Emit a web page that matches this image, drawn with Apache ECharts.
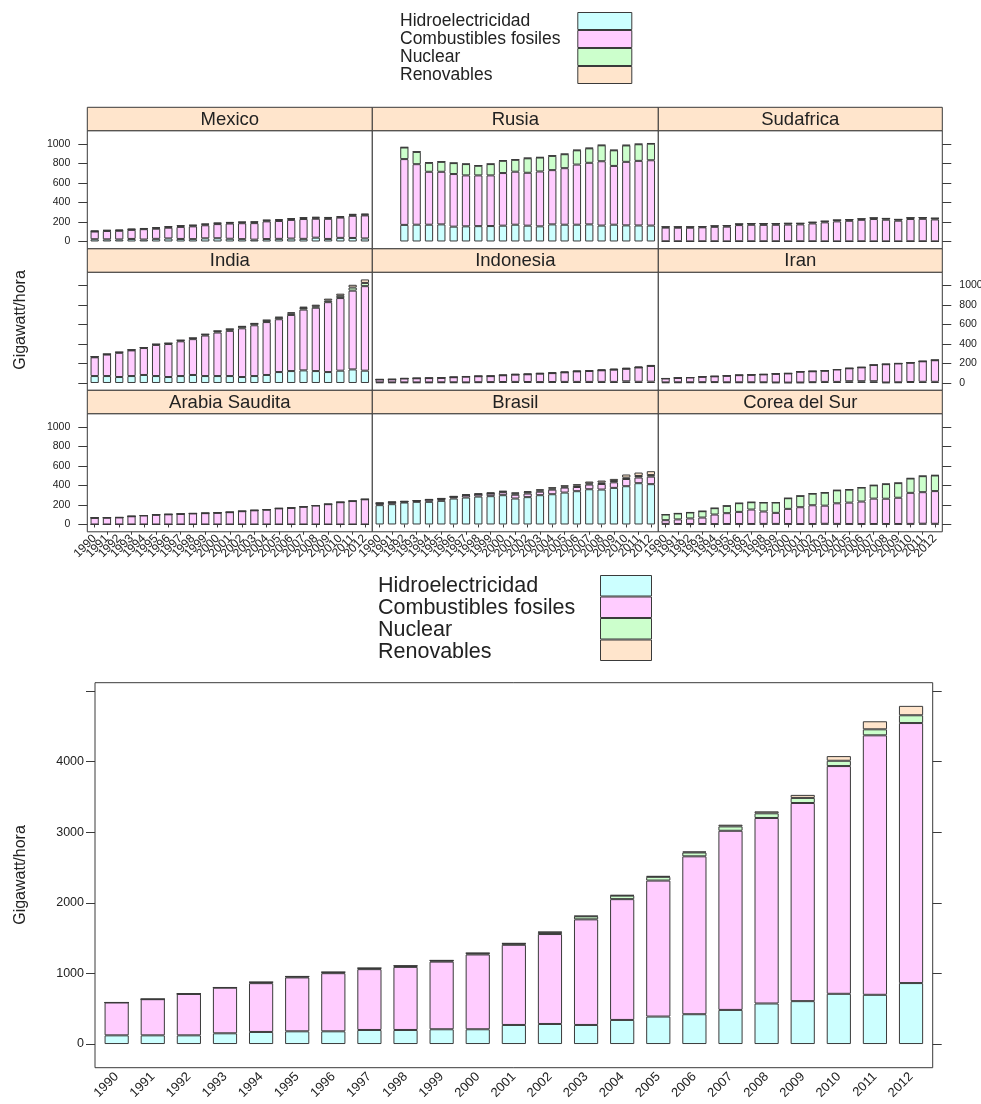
<!DOCTYPE html>
<html><head><meta charset="utf-8">
<script src="https://cdn.jsdelivr.net/npm/echarts@6/dist/echarts.min.js"></script>
<style>html,body{margin:0;padding:0;background:#fff}#c{width:981px;height:1104px}</style>
</head><body><div id="c"></div>
<script>
const years = ['1990','1991','1992','1993','1994','1995','1996','1997','1998','1999','2000','2001','2002','2003','2004','2005','2006','2007','2008','2009','2010','2011','2012'];
const sources = ['Hidroelectricidad','Combustibles fosiles','Nuclear','Renovables'];
const countries = ['Mexico','Rusia','Sudafrica','India','Indonesia','Iran','Arabia Saudita','Brasil','Corea del Sur'];
const panelTicks = [0,200,400,600,800,1000];
const chinaTicks = [0,1000,2000,3000,4000,5000];
const chinaTickLabels = [0,1000,2000,3000,4000];

const mexicoHidro   = [23,22,21,26,20,27,31,26,24,32,33,28,24,19,25,27,30,27,39,26,37,36,31];
const mexicoFosil   = [79,86,89,93,106,104,110,123,131,134,145,156,163,169,181,183,191,203,194,206,208,227,236];
const mexicoNuclear = [3,4,4,5,4,8,8,10,9,10,8,8,10,10,9,10,10,10,10,10,6,10,8];
const mexicoRenov   = [5,5,6,6,6,6,6,6,6,6,6,6,5,7,7,8,7,8,9,8,9,9,10];

const rusiaHidro   = [null,null,170,172,172,175,152,155,157,158,162,172,162,155,175,172,172,175,163,172,165,164,163];
const rusiaFosil   = [null,null,674,620,542,539,539,522,520,519,539,543,542,562,556,579,616,631,659,602,651,662,669];
const rusiaNuclear = [null,null,119,126,92,102,112,116,99,116,126,122,148,143,146,143,146,148,163,160,168,170,170];
const rusiaRenov   = [null,null,3,3,3,3,3,3,3,3,3,3,5,4,4,4,4,5,4,4,5,4,4];

const sudafricaHidro   = [2,2,1,2,2,1,2,2,2,2,1,2,2,1,1,1,2,1,1,1,2,2,1];
const sudafricaFosil   = [140,139,140,143,148,151,166,169,168,169,172,173,183,195,205,211,220,229,222,212,228,230,225];
const sudafricaNuclear = [8,9,9,7,10,11,12,13,14,13,13,11,12,12,14,12,10,12,13,13,13,13,12];
const sudafricaRenov   = [0,0,0,0,0,0,0,0,0,0,0,0,0,0,0,0,0,0,0,0,0,1,1];

const indiaHidro   = [71,71,61,71,82,71,61,71,82,71,71,71,61,71,82,112,122,129,122,112,126,139,126];
const indiaFosil   = [192,220,248,263,276,319,338,356,367,415,446,463,499,520,542,541,575,623,649,716,744,807,866];
const indiaNuclear = [6,5,7,5,5,7,8,10,11,12,15,17,18,17,17,17,17,17,15,17,23,32,33];
const indiaRenov   = [0,0,0,1,1,1,1,2,2,2,2,3,3,4,5,7,10,13,16,19,22,28,36];

const indonesiaHidro   = [6,6,6,6,6,7,7,6,8,9,10,11,10,9,10,11,11,11,11,11,17,12,13];
const indonesiaFosil   = [30,31,40,42,44,45,52,59,61,61,69,75,79,87,91,98,108,112,119,126,129,147,162];
const indonesiaNuclear = [0,0,0,0,0,0,0,0,0,0,0,0,0,0,0,0,0,0,0,0,0,0,0];
const indonesiaRenov   = [1,1,2,2,2,3,3,3,3,4,5,6,6,6,7,7,7,7,8,9,9,9,9];

const iranHidro   = [6,7,7,8,9,7,7,7,7,5,4,5,8,11,11,18,18,18,5,7,10,12,12];
const iranFosil   = [40,45,49,56,59,67,73,77,81,89,94,111,112,115,127,132,142,166,187,193,198,210,221];
const iranNuclear = [0,0,0,0,0,0,0,0,0,0,0,0,0,0,0,0,0,0,0,0,0,0.1,1.3];
const iranRenov   = [0,0,0,0,0,0,0,0,0,0,0,0,0,0,0,0,0,0,0,0,0,0,0];

const arabiaHidro   = [0,0,0,0,0,0,0,0,0,0,0,0,0,0,0,0,0,0,0,0,0,0,0];
const arabiaFosil   = [68,70,72,84,92,100,104,108,113,116,120,126,136,145,152,165,170,182,194,208,228,240,258];
const arabiaNuclear = [0,0,0,0,0,0,0,0,0,0,0,0,0,0,0,0,0,0,0,0,0,0,0];
const arabiaRenov   = [0,0,0,0,0,0,0,0,0,0,0,0,0,0,0,0,0,0,0,0,0,0,0];

const brasilHidro   = [198,208,225,232,232,242,266,276,286,290,300,266,280,300,310,327,341,361,358,375,392,423,413];
const brasilFosil   = [18,19,8,10,22,19,17,23,22,26,30,39,37,36,47,51,43,48,57,57,74,58,77];
const brasilNuclear = [2,1,2,0,0,3,2,3,3,4,6,14,14,13,12,10,14,12,14,13,14,16,16];
const brasilRenov   = [4,4,4,4,5,5,5,5,6,7,8,8,10,12,13,14,15,19,21,22,32,35,40];

const coreaHidro   = [6,5,5,5,4,5,5,5,6,6,5,4,5,7,6,5,5,5,5,5,6,8,7];
const coreaFosil   = [38,47,57,66,98,111,124,148,127,113,155,173,192,186,211,219,230,260,259,269,318,323,335];
const coreaNuclear = [58,61,61,65,65,75,89,75,92,106,109,116,119,133,133,133,143,136,150,150,147,164,160];
const coreaRenov   = [0,0,0,0,0,0,0,0,0,0,0,0,1,1,1,1,1,1,2,2,3,3,3];

const chinaHidro   = [123,123,123,152,171,180,180,199,199,209,209,270,284,270,341,389,422,483,574,607,711,697,863];
const chinaFosil   = [465,512,587,646,691,763,823,861,893,958,1059,1135,1273,1495,1710,1925,2235,2536,2626,2805,3224,3673,3681];
const chinaNuclear = [0,0,0,2,14,13,14,14,14,15,17,17,25,43,50,53,55,62,66,72,75,85,110];
const chinaRenov   = [0,0,1,1,1,1,2,2,3,3,4,5,6,7,8,12,14,24,28,43,66,114,133];

const panelData = [
  [mexicoHidro, mexicoFosil, mexicoNuclear, mexicoRenov],
  [rusiaHidro, rusiaFosil, rusiaNuclear, rusiaRenov],
  [sudafricaHidro, sudafricaFosil, sudafricaNuclear, sudafricaRenov],
  [indiaHidro, indiaFosil, indiaNuclear, indiaRenov],
  [indonesiaHidro, indonesiaFosil, indonesiaNuclear, indonesiaRenov],
  [iranHidro, iranFosil, iranNuclear, iranRenov],
  [arabiaHidro, arabiaFosil, arabiaNuclear, arabiaRenov],
  [brasilHidro, brasilFosil, brasilNuclear, brasilRenov],
  [coreaHidro, coreaFosil, coreaNuclear, coreaRenov]
];
const chinaData = [chinaHidro, chinaFosil, chinaNuclear, chinaRenov];

const COLORS = ['#CCFFFF','#FFCCFF','#CCFFCC','#FFE5CC'];
const STRIP_BG = '#FFE5CC';
const LINE = '#3a3a3a';
const TXT = '#222';
const FONT = '"Liberation Sans", Arial, Helvetica, sans-serif';
const yearPos = years.map((y, k) => k + 1);
const oddPos = yearPos.filter(p => p % 2 === 1);
const evenPos = yearPos.filter(p => p % 2 === 0);
const plain = v => String(v);
const yearFmt = v => years[Math.round(v) - 1];

const colL = [87.3, 372.3, 658.3], colW = [285, 286, 284];
const rowT = [107.3, 248.8, 390.3], ROWH = 141.5, STRIP = 23.4;

const grids = [], xAxes = [], yAxes = [], series = [], graphics = [];

function stackSeries(arrs, xi, yi, stackId) {
  return sources.map((name, s) => ({
    type: 'bar', name: name, xAxisIndex: xi, yAxisIndex: yi, stack: stackId,
    barWidth: '67%', silent: true, animation: false,
    encode: { x: 1, y: 0 },
    itemStyle: { color: COLORS[s], borderColor: LINE, borderWidth: 1 },
    emphasis: { disabled: true },
    data: years.map((yr, k) => [arrs[s][k], k + 1]).filter(d => d[0] !== null)
  }));
}

function yearAxis(gi, positions, showLbl, fs, margin, tickLen) {
  return {
    type: 'value', gridIndex: gi, min: 0.4, max: 23.6, position: 'bottom',
    axisLine: { show: false }, splitLine: { show: false },
    axisTick: { show: tickLen > 0, length: tickLen, customValues: positions, lineStyle: { color: LINE } },
    axisLabel: { show: showLbl, customValues: positions, rotate: 45, fontSize: fs, margin: margin,
      showMinLabel: true, showMaxLabel: true, hideOverlap: false,
      color: TXT, fontFamily: FONT, formatter: yearFmt }
  };
}

countries.forEach((name, i) => {
  const r = Math.floor(i / 3), c = i % 3;
  grids.push({
    left: colL[c], width: colW[c], top: rowT[r] + STRIP, height: ROWH - STRIP,
    show: true, borderColor: LINE, borderWidth: 1, backgroundColor: '#fff',
    containLabel: false, outerBoundsMode: 'none'
  });
  const xi = xAxes.length;
  xAxes.push(yearAxis(i, oddPos, r === 2, 12, 5, r === 2 ? 3 : 0));
  if (r === 2) xAxes.push(yearAxis(i, evenPos, true, 12, 5, 3));
  yAxes.push({
    type: 'value', gridIndex: i, min: -75, max: 1135, position: c === 2 ? 'right' : 'left',
    axisLine: { show: false }, splitLine: { show: false },
    axisTick: { show: c !== 1, length: 9, customValues: panelTicks, lineStyle: { color: LINE } },
    axisLabel: { show: (c === 0 && r !== 1) || (c === 2 && r === 1), customValues: panelTicks,
      fontSize: 10.5, margin: 17, color: TXT, fontFamily: FONT, formatter: plain }
  });
  stackSeries(panelData[i], xi, i, 'p' + i).forEach(s => series.push(s));
  graphics.push({
    type: 'rect', silent: true,
    shape: { x: colL[c], y: rowT[r], width: colW[c], height: STRIP },
    style: { fill: STRIP_BG, stroke: LINE, lineWidth: 1 }
  });
  graphics.push({
    type: 'text', silent: true, x: colL[c] + colW[c] / 2, y: rowT[r] + STRIP / 2 + 0.5,
    style: { text: name, align: 'center', verticalAlign: 'middle', font: '18.5px ' + FONT, fill: TXT }
  });
});

// bottom chart
const CI = countries.length;
grids.push({ left: 95, top: 682.7, width: 837.7, height: 385, show: true, borderColor: LINE, borderWidth: 1,
  backgroundColor: '#fff', containLabel: false, outerBoundsMode: 'none' });
const cxi = xAxes.length;
xAxes.push(yearAxis(CI, yearPos, true, 13, 7, 0));
const cyi = yAxes.length;
yAxes.push({
  type: 'value', gridIndex: CI, min: -335, max: 5115, position: 'left',
  axisLine: { show: false }, splitLine: { show: false },
  axisTick: { length: 9, customValues: chinaTicks, lineStyle: { color: LINE } },
  axisLabel: { customValues: chinaTickLabels, fontSize: 12.5, margin: 11, color: TXT, fontFamily: FONT, formatter: plain }
});
yAxes.push({
  type: 'value', gridIndex: CI, min: -335, max: 5115, position: 'right',
  axisLine: { show: false }, splitLine: { show: false },
  axisTick: { length: 9, customValues: chinaTicks, lineStyle: { color: LINE } },
  axisLabel: { show: false }
});
stackSeries(chinaData, cxi, cyi, 'china').forEach(s => series.push(s));

graphics.push({ type: 'text', silent: true, x: 21, y: 320, rotation: Math.PI / 2,
  style: { text: 'Gigawatt/hora', align: 'center', verticalAlign: 'middle', font: '16px ' + FONT, fill: TXT } });
graphics.push({ type: 'text', silent: true, x: 21, y: 875, rotation: Math.PI / 2,
  style: { text: 'Gigawatt/hora', align: 'center', verticalAlign: 'middle', font: '16px ' + FONT, fill: TXT } });

function textLegend(left, top, h, fs) {
  return { orient: 'vertical', left: left, top: top, padding: 0, itemGap: 0, itemWidth: 0, itemHeight: h,
    icon: 'rect', itemStyle: { color: 'rgba(0,0,0,0)', borderWidth: 0 }, selectedMode: false,
    textStyle: { fontSize: fs, lineHeight: h, color: TXT, fontFamily: FONT }, data: sources };
}
function boxLegend(left, top, w, h) {
  return { orient: 'vertical', left: left, top: top, padding: 0, itemGap: 0, itemWidth: w, itemHeight: h,
    icon: 'rect', itemStyle: { borderColor: LINE, borderWidth: 1 }, selectedMode: false,
    formatter: () => '', textStyle: { fontSize: 6 }, data: sources };
}

const chart = echarts.init(document.getElementById('c'), null, { renderer: 'canvas' });
chart.setOption({
  animation: false,
  backgroundColor: '#fff',
  legend: [
    textLegend(395, 12, 17, 17.5), boxLegend(577.3, 12, 54, 17),
    textLegend(373, 575, 20.5, 21.5), boxLegend(600, 575, 51, 20.5)
  ],
  grid: grids, xAxis: xAxes, yAxis: yAxes, series: series, graphic: graphics
});
</script></body></html>
